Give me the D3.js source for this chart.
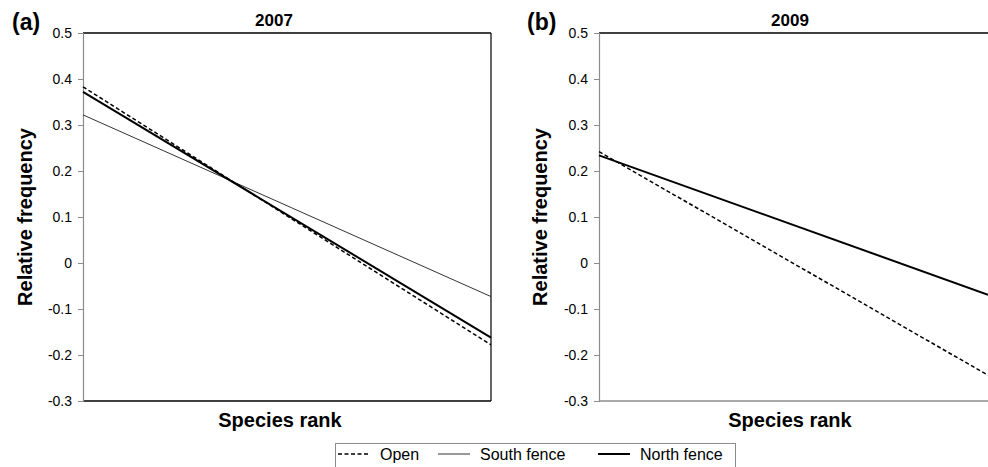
<!DOCTYPE html>
<html lang="en">
<head>
<meta charset="UTF-8" />
<script src="https://d3js.org/d3.v7.min.js"></script>
<style>
  body { margin: 0; background: #fff; }
  text { font-family: "Liberation Sans", Arial, sans-serif; }
  .tick text { font-size: 14px; fill: #000; }
  .tick line, .domain { stroke: #8c8c8c; }
</style>
</head>
<body>
<script>
// regression lines of relative frequency on species rank (first and last rank)
var ranks = [1, 20];
var yTicks = [0.5, 0.4, 0.3, 0.2, 0.1, 0, -0.1, -0.2, -0.3];
var seriesNames = ["Open", "South fence", "North fence"];

var open2007 = [0.383, -0.178];
var south2007 = [0.322, -0.073];
var north2007 = [0.372, -0.162];

var open2009 = [0.242, -0.244];
var north2009 = [0.234, -0.069];

var width = 988, height = 467;
var svg = d3.select("body").append("svg").attr("width", width).attr("height", height);

var styles = {
  "Open": { w: 1.5, dash: "4,2.5", c: "#000" },
  "South fence": { w: 1, dash: null, c: "#333" },
  "North fence": { w: 2, dash: null, c: "#000" }
};

function panel(opt) {
  var x = d3.scaleLinear().domain(d3.extent(ranks)).range([opt.x0, opt.x1]);
  var y = d3.scaleLinear().domain([-0.3, 0.5]).range([401, 33]);
  var g = svg.append("g");

  // top / right / bottom frame
  g.append("line").attr("x1", opt.x0).attr("x2", opt.x1).attr("y1", y(0.5)).attr("y2", y(0.5))
    .attr("stroke", "#000").attr("stroke-width", 1.3);
  g.append("line").attr("x1", opt.x0).attr("x2", opt.x1).attr("y1", y(-0.3)).attr("y2", y(-0.3))
    .attr("stroke", opt.bottomColor).attr("stroke-width", 1.6);
  if (opt.rightBorder) {
    g.append("line").attr("x1", opt.x1).attr("x2", opt.x1).attr("y1", y(0.5)).attr("y2", y(-0.3))
      .attr("stroke", "#000").attr("stroke-width", 1.2);
  }

  var yAxis = d3.axisLeft(y).tickValues(yTicks).tickSize(5).tickPadding(6)
    .tickFormat(function (d) { return d === 0 ? "0" : d.toFixed(1); });
  g.append("g").attr("transform", "translate(" + opt.x0 + ",0)").call(yAxis)
    .call(function (a) { a.select(".domain").attr("stroke-width", 1.2); });

  var line = d3.line().x(function (d, i) { return x(ranks[i]); }).y(function (d) { return y(d); });
  opt.series.forEach(function (s) {
    var st = styles[s.name];
    g.append("path").datum(s.values).attr("d", line).attr("fill", "none")
      .attr("stroke", st.c).attr("stroke-width", st.w).attr("stroke-dasharray", st.dash);
  });

  g.append("text").attr("x", opt.titleX).attr("y", 26).attr("text-anchor", "middle")
    .attr("font-size", 17).attr("font-weight", "bold").text(opt.title);
  g.append("text").attr("x", opt.letterX).attr("y", 30)
    .attr("font-size", 23).attr("font-weight", "bold").text(opt.letter);
  g.append("text").attr("transform", "translate(" + opt.ylabX + ",217) rotate(-90)")
    .attr("text-anchor", "middle").attr("font-size", 20).attr("font-weight", "bold")
    .text("Relative frequency");
  g.append("text").attr("x", opt.xlabX).attr("y", 427).attr("text-anchor", "middle")
    .attr("font-size", 20).attr("font-weight", "bold").text("Species rank");
}

panel({
  x0: 83, x1: 491, rightBorder: true, bottomColor: "#000",
  title: "2007", titleX: 274, letter: "(a)", letterX: 12, ylabX: 32, xlabX: 280,
  series: [
    { name: "South fence", values: south2007 },
    { name: "Open", values: open2007 },
    { name: "North fence", values: north2007 }
  ]
});

panel({
  x0: 599, x1: 988, rightBorder: false, bottomColor: "#8c8c8c",
  title: "2009", titleX: 790, letter: "(b)", letterX: 527, ylabX: 547, xlabX: 790,
  series: [
    { name: "Open", values: open2009 },
    { name: "North fence", values: north2009 }
  ]
});

// legend
var leg = svg.append("g");
leg.append("rect").attr("x", 335.5).attr("y", 443.5).attr("width", 400).attr("height", 30)
  .attr("fill", "#fff").attr("stroke", "#8c8c8c");
var legX = [338, 438, 598];
seriesNames.forEach(function (n, i) {
  var st = styles[n];
  leg.append("line").attr("x1", legX[i]).attr("x2", legX[i] + 32).attr("y1", 454).attr("y2", 454)
    .attr("stroke", st.c).attr("stroke-width", st.w).attr("stroke-dasharray", st.dash);
  leg.append("text").attr("x", legX[i] + 42).attr("y", 460).attr("font-size", 16).text(n);
});
</script>
</body>
</html>
